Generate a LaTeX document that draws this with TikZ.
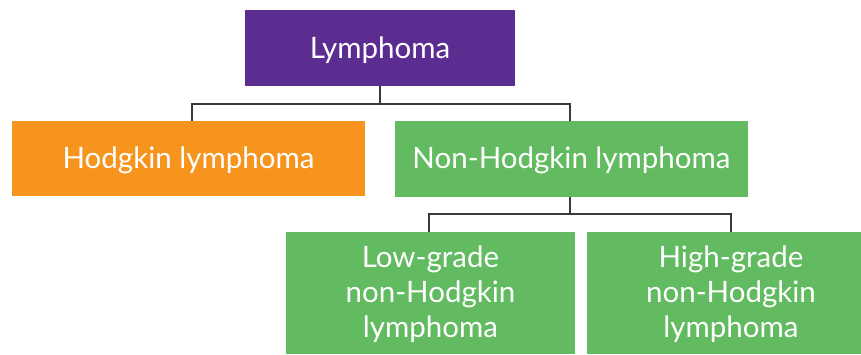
\documentclass[tikz,border=0pt]{standalone}
\usepackage{fontspec}
\setmainfont{Lato}
\definecolor{cpurple}{HTML}{5C2D91}
\definecolor{corange}{HTML}{F7941D}
\definecolor{cgreen}{HTML}{62BB60}
\definecolor{cline}{HTML}{3A3A3A}
\begin{document}
\begin{tikzpicture}[x=1pt,y=-1pt,
  box/.style={inner sep=0pt, text=white, font=\fontsize{29.5}{35}\selectfont, align=center},
  conn/.style={draw=cline, line width=2pt}]
\useasboundingbox (0,0) rectangle (861,354);
\fill[cpurple] (245,10) rectangle (515,86);
\node[box] (ly) at (380,50) {Lymphoma};
\coordinate (lyb) at (380,86);
\fill[corange] (12,121) rectangle (365,196);
\node[box] (hl) at (188.5,160) {Hodgkin lymphoma};
\coordinate (hlt) at (192,121);
\fill[cgreen] (395,121) rectangle (748,197);
\node[box] (nhl) at (571.5,160) {Non-Hodgkin lymphoma};
\coordinate (nhlt) at (570,121);
\coordinate (nhlb) at (570,197);
\fill[cgreen] (286,232) rectangle (575,354);
\node[box] (lg) at (430.5,294) {Low-grade\\non-Hodgkin\\lymphoma};
\coordinate (lgt) at (429,232);
\fill[cgreen] (587,232) rectangle (861,354);
\node[box] (hg) at (731,294) {High-grade\\non-Hodgkin\\lymphoma};
\coordinate (hgt) at (731,232);
\draw[conn] (lyb) -- (380,104) -| (hlt);
\draw[conn] (380,104) -| (nhlt);
\draw[conn] (nhlb) -- (570,214) -| (lgt);
\draw[conn] (570,214) -| (hgt);
\end{tikzpicture}
\end{document}
